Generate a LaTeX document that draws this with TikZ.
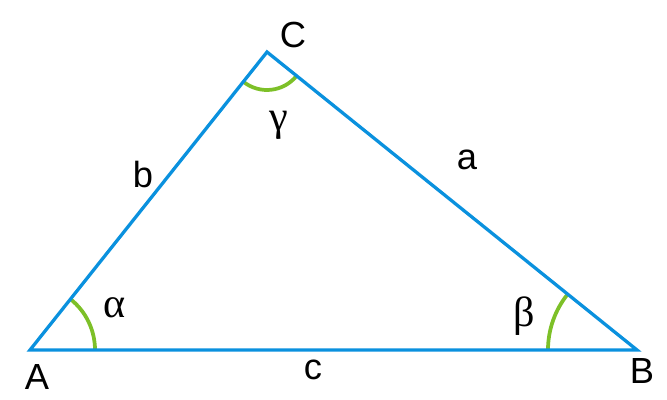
\documentclass[tikz,border=0pt]{standalone}
\usepackage{fontspec}
\setmainfont{Liberation Sans}
\newfontfamily\greekfont{Liberation Serif}
\usepackage{tikz}
\usetikzlibrary{angles}

\definecolor{sideblue}{RGB}{10,145,222}
\definecolor{anglegreen}{RGB}{125,192,40}

\tikzset{
  side/.style={draw=sideblue, line width=2.8pt},
  anglearc/.style={draw=anglegreen, line width=3.2pt},
  lbl/.style={font=\fontsize{31}{36}\selectfont, inner sep=0pt},
  glbl/.style={font=\fontsize{36}{40}\selectfont\greekfont, inner sep=0pt}
}

\begin{document}
\begin{tikzpicture}[x=0.03cm, y=0.03cm]
\useasboundingbox (0,0) rectangle (667,400);

%corners
\coordinate (A) at (30,50);
\coordinate (B) at (637,50);
\coordinate (C) at (267,348);

%draw the angles
\pic[anglearc, angle radius=1.95cm] {angle = B--A--C};
\pic[anglearc, angle radius=2.67cm] {angle = C--B--A};
\pic[anglearc, angle radius=1.14cm] {angle = A--C--B};

%draw the sides
\draw[side] (A) -- (B) -- (C) -- cycle;

%corner labels
\node[lbl] (labA) at (37,23) {A};
\node[lbl] (labB) at (642,29) {B};
\node[lbl] (labC) at (293,365) {C};

%side labels
\node[lbl] (laba) at (467,240) {a};
\node[lbl] (labb) at (143,225) {b};
\node[lbl] (labc) at (313,30) {c};

%angle labels
\node[glbl] (alpha) at (115,92) {α};
\node[glbl] (beta) at (524,84) {β};
\node[glbl] (gamma) at (279,275) {γ};
\end{tikzpicture}
\end{document}
